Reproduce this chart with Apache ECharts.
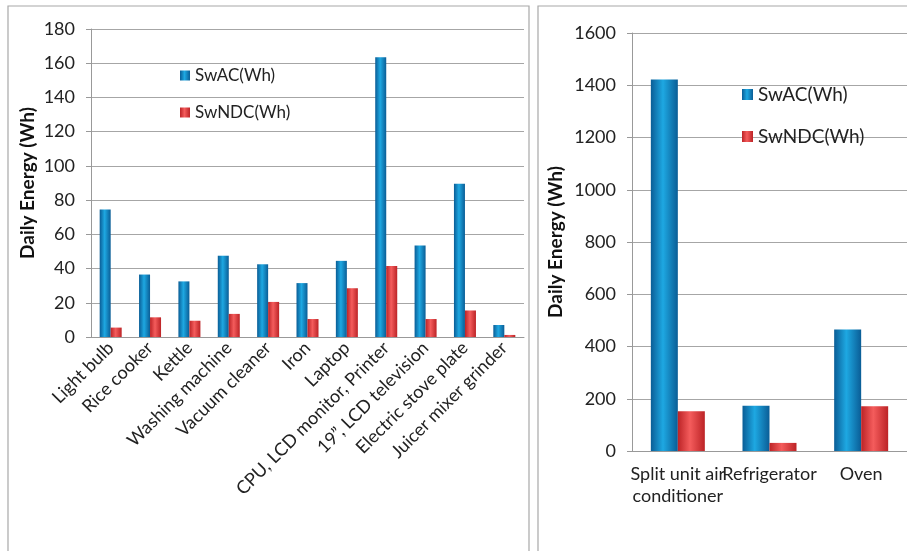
<!DOCTYPE html>
<html lang="en">
<head>
    <meta charset="UTF-8">
    <title>Daily Energy</title>
    <script src="https://cdn.jsdelivr.net/npm/echarts@6/dist/echarts.min.js"></script>
    <style>
        html, body { margin: 0; padding: 0; background: #fff; }
        #main { width: 907px; height: 551px; }
    </style>
</head>
<body>
<div id="main"></div>
<script>
    // left panel: small appliances
    let smallItems = ['Light bulb', 'Rice cooker', 'Kettle', 'Washing machine', 'Vacuum cleaner', 'Iron',
        'Laptop', 'CPU, LCD monitor, Printer', '19\u201D, LCD television', 'Electric stove plate', 'Juicer mixer grinder'];
    let smallSwAC = [74.5, 36.5, 32.5, 47.5, 42.5, 31.5, 44.5, 163.5, 53.5, 89.5, 7];
    let smallSwNDC = [5.5, 11.5, 9.5, 13.5, 20.5, 10.5, 28.5, 41.5, 10.5, 15.5, 1.2];

    // right panel: large appliances
    let bigItems = ['Split unit air\nconditioner', 'Refrigerator', 'Oven'];
    let bigSwAC = [1422, 173, 465];
    let bigSwNDC = [152, 31, 171];

    let fontName = 'Lato, "Open Sans", sans-serif';

    function barColor(dark, light) {
        return new echarts.graphic.LinearGradient(0, 0, 1, 0, [
            {offset: 0, color: dark},
            {offset: 0.45, color: light},
            {offset: 1, color: dark}
        ]);
    }
    let blue = barColor('#0a5d96', '#1ea8e2');
    let red = barColor('#bc2326', '#f45c5c');

    let valueAxisBase = {
        type: 'value',
        nameLocation: 'middle',
        nameTextStyle: {fontFamily: fontName, fontSize: 19, fontWeight: 'bold', color: '#111'},
        axisLine: {show: true, lineStyle: {color: '#999'}},
        axisTick: {show: true, length: 5, lineStyle: {color: '#999'}},
        axisLabel: {fontFamily: fontName, fontSize: 18, color: '#222', margin: 16, formatter: v => String(v)},
        splitLine: {lineStyle: {color: '#a6a6a6', width: 1.2}}
    };

    let chart = echarts.init(document.getElementById('main'));
    chart.setOption({
        animation: false,
        backgroundColor: '#fff',
        textStyle: {fontFamily: fontName},
        graphic: [
            {type: 'rect', shape: {x: 8, y: 6, width: 521, height: 560}, style: {fill: 'none', stroke: '#a8a8a8', lineWidth: 1.2}},
            {type: 'rect', shape: {x: 538, y: 6, width: 380, height: 560}, style: {fill: 'none', stroke: '#a8a8a8', lineWidth: 1.2}}
        ],
        legend: [
            {
                orient: 'vertical', left: 175, top: 62, icon: 'rect', itemWidth: 10, itemHeight: 10, itemGap: 20,
                textStyle: {fontFamily: fontName, fontSize: 17, color: '#222'},
                data: ['SwAC(Wh)', 'SwNDC(Wh)']
            },
            {
                orient: 'vertical', left: 737, top: 80, icon: 'rect', itemWidth: 11, itemHeight: 11, itemGap: 23,
                textStyle: {fontFamily: fontName, fontSize: 19, color: '#222'},
                data: ['SwAC(Wh) ', 'SwNDC(Wh) ']
            }
        ],
        grid: [
            {left: 91, top: 29, right: 383, bottom: 214},
            {left: 632, top: 33, right: -10, bottom: 100}
        ],
        xAxis: [
            {
                type: 'category', gridIndex: 0, data: smallItems,
                axisLine: {lineStyle: {color: '#999'}}, axisTick: {show: false},
                axisLabel: {interval: 0, rotate: 45, fontFamily: fontName, fontSize: 18, color: '#222', margin: 8}
            },
            {
                type: 'category', gridIndex: 1, data: bigItems,
                axisLine: {lineStyle: {color: '#999'}}, axisTick: {show: false},
                axisLabel: {interval: 0, fontFamily: fontName, fontSize: 18, color: '#222', margin: 12, lineHeight: 22}
            }
        ],
        yAxis: [
            Object.assign({}, valueAxisBase, {gridIndex: 0, min: 0, max: 180, interval: 20, name: 'Daily Energy (Wh)', nameGap: 54}),
            Object.assign({}, valueAxisBase, {gridIndex: 1, min: 0, max: 1600, interval: 200, name: 'Daily Energy (Wh)', nameGap: 67})
        ],
        series: [
            {name: 'SwAC(Wh)', type: 'bar', xAxisIndex: 0, yAxisIndex: 0, data: smallSwAC, barWidth: 11, barGap: '0%', itemStyle: {color: blue}},
            {name: 'SwNDC(Wh)', type: 'bar', xAxisIndex: 0, yAxisIndex: 0, data: smallSwNDC, barWidth: 11, barGap: '0%', itemStyle: {color: red}},
            {name: 'SwAC(Wh) ', type: 'bar', xAxisIndex: 1, yAxisIndex: 1, data: bigSwAC, barWidth: 27, barGap: '0%', itemStyle: {color: blue}},
            {name: 'SwNDC(Wh) ', type: 'bar', xAxisIndex: 1, yAxisIndex: 1, data: bigSwNDC, barWidth: 27, barGap: '0%', itemStyle: {color: red}}
        ]
    });
</script>
</body>
</html>
